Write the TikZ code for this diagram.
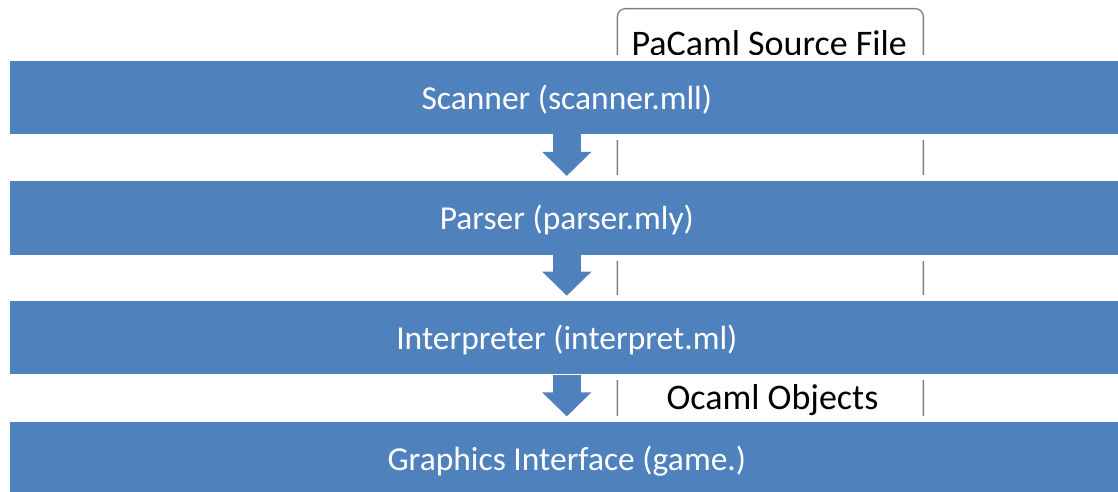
\documentclass[tikz,border=0pt]{standalone}
\usepackage{fontspec}
\setmainfont{Carlito}
\usetikzlibrary{arrows.meta}
\definecolor{stageblue}{HTML}{4F81BD}
\definecolor{boxgray}{HTML}{7F7F7F}
\tikzset{
  stagebar/.style={fill=stageblue, text=white, font=\fontsize{33.5}{36}\selectfont,
    minimum width=1114pt, minimum height=73.5pt, inner sep=0pt,
    text height=28pt, text depth=4pt,
    preaction={draw=white, line width=12pt}},
  flowarrow/.style={draw=stageblue, line width=27.4pt,
    -{Triangle[width=47.7pt,length=24pt]}, shorten >=5pt},
  filebox/.style={draw=boxgray, fill=white, line width=1.3pt, rounded corners=8pt,
    minimum width=306pt, minimum height=432pt, anchor=north west, inner sep=0pt},
  boxlabel/.style={font=\fontsize{36}{40}\selectfont, anchor=base, inner sep=0pt}
}
\begin{document}
\begin{tikzpicture}[x=1pt,y=-1pt]
\useasboundingbox (0,0) rectangle (1118,492);
\clip (0,0) rectangle (1118,492);

% source file box behind the pipeline bars
\node[filebox] (src) at (616.7,8) {};
\node[boxlabel] (srclabel) at (769.2,55.5) {PaCaml Source File};
\node[boxlabel] (objlabel) at (772.5,409.5) {Ocaml Objects};

% pipeline stages
\node[stagebar] (scan)   at (566.8,97.35)  {Scanner (scanner.mll)};
\node[stagebar] (parse)  at (566.8,217.85) {Parser (parser.mly)};
\node[stagebar] (interp) at (566.8,337.65) {Interpreter (interpret.ml)};
\node[stagebar] (gfx)    at (566.8,458.35) {Graphics Interface (game.)};

% flow between stages
\draw[flowarrow] (scan.south)   -- (parse.north);
\draw[flowarrow] (parse.south)  -- (interp.north);
\draw[flowarrow] (interp.south) -- (gfx.north);
\end{tikzpicture}
\end{document}
